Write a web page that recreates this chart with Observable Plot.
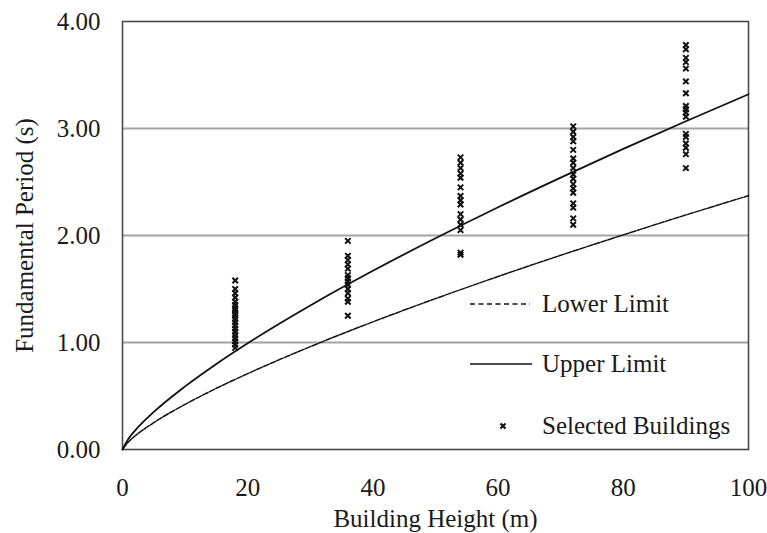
<!DOCTYPE html>
<html><head><meta charset="utf-8">
<script src="https://cdn.jsdelivr.net/npm/d3@7"></script>
<script src="https://cdn.jsdelivr.net/npm/@observablehq/plot@0.6"></script>
<style>
body{margin:0;background:#fff;}
#wrap{position:relative;width:767px;height:533px;font-family:"Liberation Serif","Times New Roman",serif;}
.item{position:absolute;white-space:nowrap;display:flex;align-items:center;font-size:25px;color:#1a1a1a;height:30px;}
.item svg{margin-right:10px;}
</style></head><body><div id="wrap"></div>
<script>
// Tick values
const xTicks = [0, 20, 40, 60, 80, 100];
const yTicks = [0, 1, 2, 3, 4];
const gridY = [1, 2, 3];

// Limit curves
const curveHeights = [0, 1, 2, 5, 10, 15, 20, 30, 40, 50, 60, 70, 80, 90, 100];
const upperLimit = [0, 0.105, 0.177, 0.351, 0.590, 0.800, 0.993, 1.346, 1.670, 1.974, 2.264, 2.541, 2.809, 3.068, 3.320];
const lowerLimit = [0, 0.075, 0.126, 0.251, 0.422, 0.572, 0.709, 0.961, 1.193, 1.410, 1.617, 1.815, 2.006, 2.192, 2.372];

// Selected buildings
const buildingHeights = [18, 36, 54, 72, 90];
const periods18 = [1.58, 1.50, 1.46, 1.42, 1.38, 1.35, 1.32, 1.30, 1.27, 1.25, 1.22, 1.19, 1.16, 1.13, 1.10, 1.07, 1.04, 1.01, 0.98, 0.95];
const periods36 = [1.95, 1.81, 1.77, 1.73, 1.69, 1.63, 1.60, 1.57, 1.54, 1.50, 1.46, 1.41, 1.38, 1.25];
const periods54 = [2.73, 2.68, 2.63, 2.58, 2.54, 2.45, 2.37, 2.33, 2.29, 2.20, 2.15, 2.10, 2.05, 1.84, 1.82];
const periods72 = [3.02, 2.97, 2.92, 2.88, 2.80, 2.72, 2.68, 2.63, 2.57, 2.53, 2.48, 2.44, 2.40, 2.30, 2.26, 2.16, 2.10];
const periods90 = [3.78, 3.74, 3.66, 3.62, 3.56, 3.44, 3.33, 3.21, 3.18, 3.15, 3.11, 2.95, 2.92, 2.86, 2.82, 2.76, 2.63];

const periodLists = [periods18, periods36, periods54, periods72, periods90];
const buildings = buildingHeights.flatMap((h, i) => periodLists[i].map(t => ({h, t})));
const upper = curveHeights.map((h, i) => ({h, t: upperLimit[i]}));
const lower = curveHeights.map((h, i) => ({h, t: lowerLimit[i]}));

const font = '"Liberation Serif","Times New Roman",serif';

const chart = Plot.plot({
  width: 767, height: 533,
  marginLeft: 122, marginRight: 19, marginTop: 21, marginBottom: 84,
  style: {fontFamily: font, fontSize: "25px", background: "white", color: "#1a1a1a"},
  x: {domain: [0, 100]},
  y: {domain: [0, 4]},
  marks: [
    Plot.ruleY(gridY, {stroke: "#a3a3a3", strokeWidth: 2}),
    Plot.frame({stroke: "#4a4a4a", strokeWidth: 1.6}),
    Plot.axisX(xTicks, {tickSize: 0, tickPadding: 29, label: "Building Height (m)", labelAnchor: "center", labelArrow: "none", labelOffset: 77}),
    Plot.axisY(yTicks, {tickSize: 0, tickPadding: 22, tickFormat: d3.format(".2f"), label: "Fundamental Period (s)", labelAnchor: "center", labelArrow: "none", labelOffset: 107}),
    Plot.line(lower, {x: "h", y: "t", stroke: "#111", strokeWidth: 1.5, strokeDasharray: "6,1.5", curve: "monotone-x"}),
    Plot.line(upper, {x: "h", y: "t", stroke: "#111", strokeWidth: 1.8, curve: "monotone-x"}),
    Plot.dot(buildings, {x: "h", y: "t", symbol: "times", r: 2.6, stroke: "#111", strokeWidth: 2})
  ]
});
const wrap = document.getElementById("wrap");
wrap.appendChild(chart);

// Legend (overlay)
const legendItems = [
  {label: "Lower Limit", kind: "dash", top: 289},
  {label: "Upper Limit", kind: "solid", top: 349},
  {label: "Selected Buildings", kind: "dot", top: 411}
];
for (const it of legendItems) {
  const div = document.createElement("div");
  div.className = "item";
  div.style.left = "470px";
  div.style.top = it.top + "px";
  let sample;
  if (it.kind === "dash") sample = '<svg width="62" height="30"><line x1="0" x2="60" y1="15" y2="15" stroke="#111" stroke-width="1.6" stroke-dasharray="5,3.5"/></svg>';
  else if (it.kind === "solid") sample = '<svg width="62" height="30"><line x1="0" x2="62" y1="15" y2="15" stroke="#111" stroke-width="1.6"/></svg>';
  else sample = '<svg width="62" height="30"><path d="M30.5,12.5L35.5,17.5M35.5,12.5L30.5,17.5" stroke="#111" stroke-width="2.2"/></svg>';
  div.innerHTML = sample + "<span>" + it.label + "</span>";
  wrap.appendChild(div);
}
</script></body></html>
